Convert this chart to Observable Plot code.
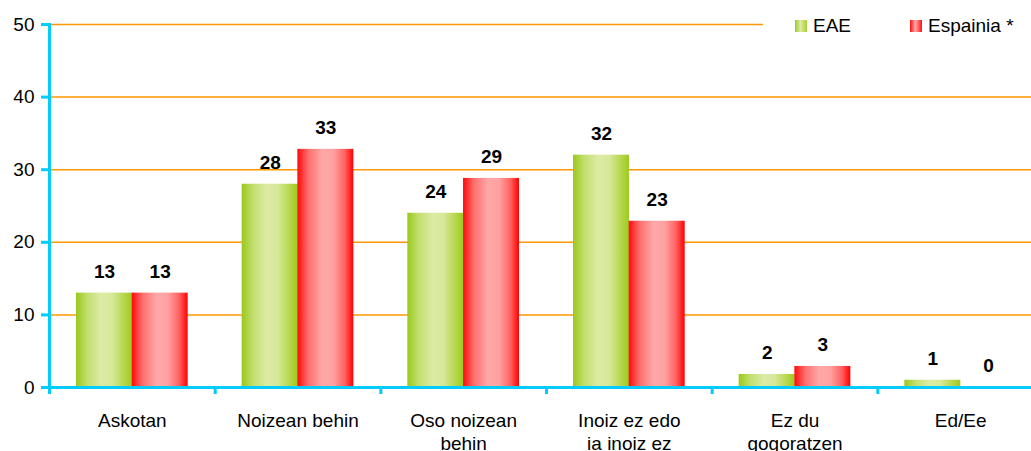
<!DOCTYPE html>
<html>
<head>
<meta charset="utf-8">
<script src="https://cdn.jsdelivr.net/npm/d3@7"></script>
<script src="https://cdn.jsdelivr.net/npm/@observablehq/plot@0.6"></script>
<style>
  html, body { margin: 0; padding: 0; background: #fff; overflow: hidden; }
  #wrap { position: relative; width: 1031px; height: 451px; font-family: "Liberation Sans", Arial, sans-serif; }
  #legend { position: absolute; left: 763px; top: 10px; width: 268px; height: 32px; background: #fff; font-size: 19px; color: #000; }
  .item { position: absolute; top: 5px; display: flex; align-items: center; line-height: 22px; }
  .sw { width: 12px; height: 12px; margin-right: 6px; }
</style>
</head>
<body>
<div id="wrap">
  <div id="chart"></div>
  <div id="legend">
    <div class="item" style="left:32px"><div class="sw" style="background:linear-gradient(to right,#9ccb1c,#dcebA4 45%,#a8d02c)"></div><span>EAE</span></div>
    <div class="item" style="left:147px"><div class="sw" style="background:linear-gradient(to right,#ff1010,#ffaaaa 45%,#ff1010)"></div><span>Espainia *</span></div>
  </div>
</div>
<script>
const categories = ["Askotan", "Noizean behin", "Oso noizean behin", "Inoiz ez edo ia inoiz ez", "Ez du gogoratzen", "Ed/Ee"];
const tickLabels = ["Askotan", "Noizean behin", "Oso noizean\nbehin", "Inoiz ez edo\nia inoiz ez", "Ez du\ngogoratzen", "Ed/Ee"];
const series = ["EAE", "Espainia *"];
const eaeValues = [13, 28, 24, 32, 1.8, 1];
const espainiaValues = [13, 32.8, 28.8, 22.9, 2.9, 0];
const yTicks = [0, 10, 20, 30, 40, 50];
const gridTicks = [10, 20, 30, 40, 50];

const eae = categories.map((c, i) => ({category: c, series: series[0], value: eaeValues[i]}));
const esp = categories.map((c, i) => ({category: c, series: series[1], value: espainiaValues[i]}));

const cyan = "#00ccff";
const labelOf = new Map(categories.map((c, i) => [c, tickLabels[i]]));

const chart = Plot.plot({
  width: 1031,
  height: 451,
  marginLeft: 49,
  marginRight: 0,
  marginTop: 24,
  marginBottom: 64,
  style: {fontFamily: "Liberation Sans, Arial, sans-serif", fontSize: "19px", color: "#000", background: "#fff"},
  x: {type: "band", domain: categories, range: [49, 1043], paddingInner: 0, paddingOuter: 0, round: false, axis: null, label: null},
  y: {domain: [0, 50], range: [387, 24], axis: null, label: null},
  marks: [
    Plot.ruleY(gridTicks, {stroke: "#ff9900", strokeWidth: 1.5}),
    Plot.barY(eae, {x: "category", y: "value", fill: "url(#gGreen)", insetLeft: 27, insetRight: 82.7}),
    Plot.barY(esp, {x: "category", y: "value", fill: "url(#gRed)", insetLeft: 82.7, insetRight: 27}),
    Plot.text(eae, {x: "category", y: "value", text: d => String(Math.round(d.value)), dx: -27.8, dy: -21.5, fontWeight: "bold", fontSize: 19, fill: "#000"}),
    Plot.text(esp, {x: "category", y: "value", text: d => String(Math.round(d.value)), dx: 27.8, dy: -21.5, fontWeight: "bold", fontSize: 19, fill: "#000"}),
    Plot.axisY({ticks: yTicks, tickSize: 8, tickPadding: 7, stroke: cyan, strokeWidth: 3, fill: "#000", fontSize: 19, tickFormat: d => String(d), label: null}),
    Plot.axisX({tickSize: 7, dx: -82.8, stroke: cyan, strokeWidth: 3, text: null, label: null}),
    Plot.axisX({tickSize: 0, tickPadding: 23.5, fontSize: 19, fill: "#000", lineHeight: 1.21, tickFormat: d => labelOf.get(d), label: null}),
    Plot.ruleY([0], {stroke: cyan, strokeWidth: 3}),
    Plot.frame({anchor: "left", stroke: cyan, strokeWidth: 3})
  ]
});

const ns = "http://www.w3.org/2000/svg";
const defs = document.createElementNS(ns, "defs");
function grad(id, stops) {
  const g = document.createElementNS(ns, "linearGradient");
  g.setAttribute("id", id);
  g.setAttribute("x1", "0"); g.setAttribute("x2", "1"); g.setAttribute("y1", "0"); g.setAttribute("y2", "0");
  for (const [o, c] of stops) {
    const s = document.createElementNS(ns, "stop");
    s.setAttribute("offset", o);
    s.setAttribute("stop-color", c);
    g.appendChild(s);
  }
  defs.appendChild(g);
}
grad("gGreen", [["0", "#99c91a"], ["0.2", "#c2de6e"], ["0.45", "#dcebA4"], ["0.65", "#d6e899"], ["0.85", "#b8d74f"], ["1", "#9ccb1c"]]);
grad("gRed", [["0", "#ff0a0a"], ["0.2", "#ff7070"], ["0.45", "#ffa8a8"], ["0.65", "#ffa0a0"], ["0.85", "#ff6060"], ["1", "#ff0000"]]);
chart.insertBefore(defs, chart.firstChild);
document.getElementById("chart").appendChild(chart);
</script>
</body>
</html>
